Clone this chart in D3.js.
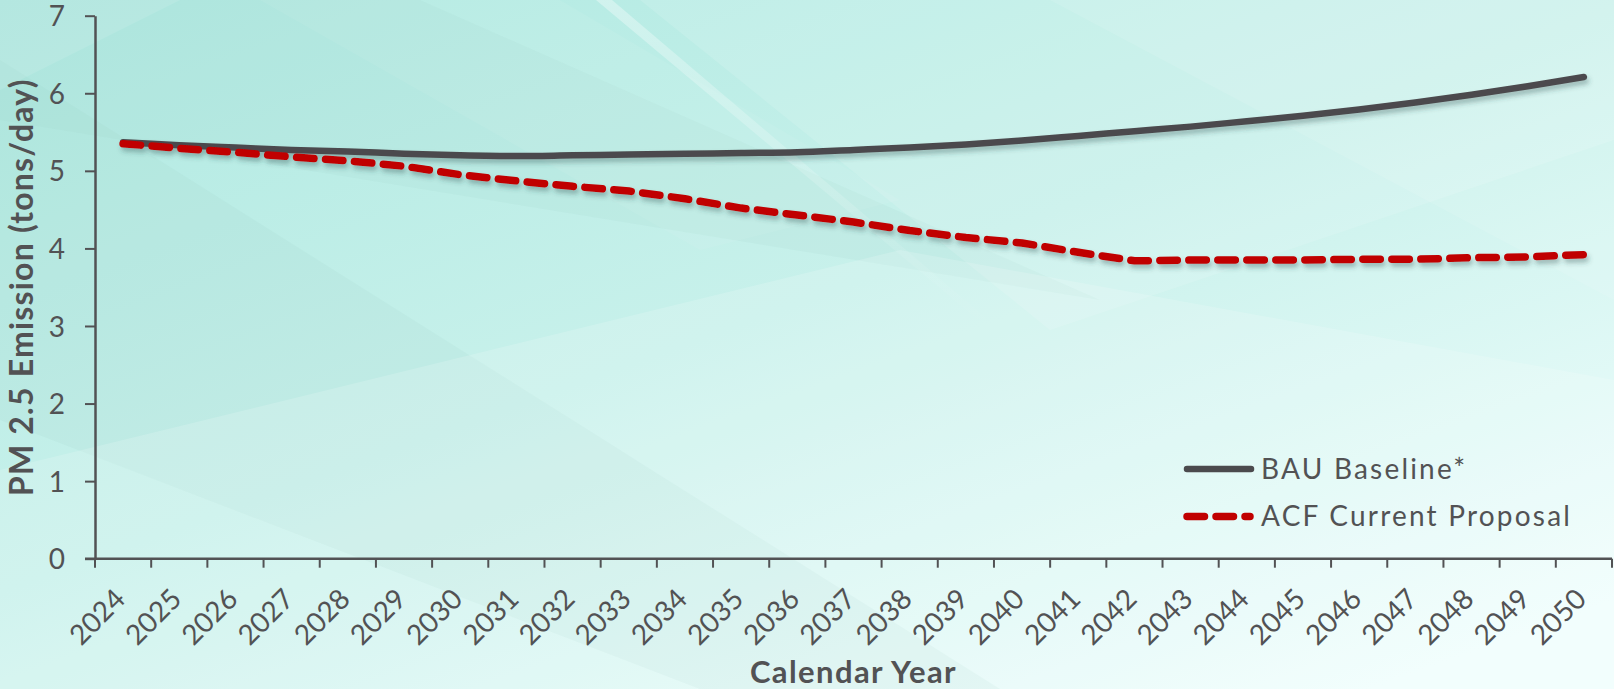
<!DOCTYPE html>
<html>
<head>
<meta charset="utf-8">
<script src="https://cdn.jsdelivr.net/npm/d3@7/dist/d3.min.js"></script>
<style>
  html, body { margin: 0; padding: 0; overflow: hidden; background: #e6f9f6; }
  svg { display: block; }
  text { font-family: Lato, "Open Sans", sans-serif; }
</style>
</head>
<body>
<svg id="chart" width="1614" height="689"></svg>
<script>
// PM 2.5 emission projections, tons per day
const years = d3.range(2024, 2051);
const bauBaseline = [5.37, 5.33, 5.30, 5.27, 5.25, 5.22, 5.20, 5.19, 5.20, 5.21,
                     5.22, 5.23, 5.24, 5.27, 5.30, 5.34, 5.39, 5.45, 5.51, 5.57,
                     5.64, 5.71, 5.79, 5.88, 5.98, 6.09, 6.21];
const acfProposal = [5.35, 5.29, 5.24, 5.18, 5.13, 5.06, 4.95, 4.87, 4.80, 4.74,
                     4.64, 4.52, 4.43, 4.34, 4.23, 4.14, 4.07, 3.95, 3.84, 3.85,
                     3.85, 3.85, 3.86, 3.86, 3.88, 3.89, 3.92];
const yTicks = [0, 1, 2, 3, 4, 5, 6, 7];
const seriesNames = ["BAU Baseline*", "ACF Current Proposal"];

const W = 1614, H = 689;
const plotLeft = 95, plotRight = 1612, plotTop = 15.7, plotBottom = 558.7;
const ink = "#525254";

const svg = d3.select("#chart");
const defs = svg.append("defs");

// background wash
const bg = defs.append("linearGradient").attr("id", "bgGrad")
  .attr("x1", "0").attr("y1", "0").attr("x2", "0.85").attr("y2", "1");
bg.append("stop").attr("offset", "0").attr("stop-color", "#afe9e1");
bg.append("stop").attr("offset", "0.5").attr("stop-color", "#c8f1eb");
bg.append("stop").attr("offset", "1").attr("stop-color", "#f0fefd");
svg.append("rect").attr("width", W).attr("height", H).attr("fill", "url(#bgGrad)");

// fading streak used for the light facet edges
const streak = defs.append("linearGradient").attr("id", "streak")
  .attr("x1", "0").attr("y1", "0").attr("x2", "0").attr("y2", "1");
streak.append("stop").attr("offset", "0").attr("stop-color", "#ffffff").attr("stop-opacity", 0.35);
streak.append("stop").attr("offset", "1").attr("stop-color", "#ffffff").attr("stop-opacity", 0);

// soft faceted light panels
const facets = [
  { pts: [[0, 60], [0, 420], [700, 689], [1000, 689]], fill: "#8fc7bf", op: 0.10 },
  { pts: [[0, 0], [420, 0], [1100, 300], [0, 120]], fill: "#9ad0c8", op: 0.12 },
  { pts: [[640, 0], [1614, 0], [1614, 140], [1050, 330]], fill: "#ffffff", op: 0.12 },
  { pts: [[0, 470], [900, 250], [1614, 380], [1614, 689], [0, 689]], fill: "#ffffff", op: 0.16 },
  { pts: [[260, 0], [560, 0], [900, 200], [700, 250]], fill: "#ffffff", op: 0.06 },
  { pts: [[1050, 0], [1614, 0], [1614, 300]], fill: "#ffffff", op: 0.10 },
  { pts: [[0, 0], [180, 0], [0, 90]], fill: "#ffffff", op: 0.10 }
];
svg.append("g").selectAll("polygon").data(facets).join("polygon")
  .attr("points", d => d.pts.map(p => p.join(",")).join(" "))
  .attr("fill", d => d.fill).attr("opacity", d => d.op);
svg.append("polygon").attr("points", "596,0 612,0 1000,330 990,330")
  .attr("fill", "url(#streak)");

// shadow under the lines
const shadow = defs.append("filter").attr("id", "lineShadow")
  .attr("x", "-5%").attr("y", "-20%").attr("width", "110%").attr("height", "160%");
shadow.append("feDropShadow").attr("dx", 2).attr("dy", 4).attr("stdDeviation", 2.5)
  .attr("flood-color", "#2f4a47").attr("flood-opacity", 0.35);

const x = d3.scaleBand().domain(years).range([plotLeft, plotRight]);
const y = d3.scaleLinear().domain([0, 7]).range([plotBottom, plotTop]);
const cx = yr => x(yr) + x.bandwidth() / 2;

// y axis
const yAxis = svg.append("g").attr("transform", `translate(${plotLeft},0)`)
  .call(d3.axisLeft(y).tickValues(yTicks).tickFormat(d3.format("d"))
    .tickSize(10).tickSizeOuter(0).tickPadding(20));
yAxis.select(".domain").attr("stroke", ink).attr("stroke-width", 2.5);
yAxis.selectAll(".tick line").attr("stroke", ink).attr("stroke-width", 2);
yAxis.selectAll(".tick text").attr("fill", ink).style("font-size", "28px")
  .attr("dy", "0.36em");

// x axis: ticks on category boundaries, labels centred on categories
const xAxis = svg.append("g").attr("transform", `translate(0,${plotBottom})`);
xAxis.append("line").attr("x1", plotLeft - 10).attr("x2", plotRight)
  .attr("stroke", ink).attr("stroke-width", 2.5);
const bounds = years.map(yr => x(yr)).concat([plotRight]);
xAxis.selectAll("line.tk").data(bounds).join("line").attr("class", "tk")
  .attr("x1", d => d).attr("x2", d => d).attr("y1", 0).attr("y2", 9)
  .attr("stroke", ink).attr("stroke-width", 2);
xAxis.selectAll("text").data(years).join("text")
  .attr("transform", d => `translate(${cx(d) + 4},42) rotate(-45)`)
  .attr("text-anchor", "end").attr("fill", ink).style("font-size", "28px")
  .text(d => d);

// axis titles
svg.append("text")
  .attr("transform", `translate(33,${(plotTop + plotBottom) / 2}) rotate(-90)`)
  .attr("text-anchor", "middle").attr("fill", ink)
  .style("font-size", "32px").style("font-weight", "bold").style("letter-spacing", "1.2px")
  .text("PM 2.5 Emission (tons/day)");
svg.append("text")
  .attr("x", (plotLeft + plotRight) / 2).attr("y", 683)
  .attr("text-anchor", "middle").attr("fill", ink)
  .style("font-size", "31px").style("font-weight", "bold").style("letter-spacing", "1.4px")
  .text("Calendar Year");

// series lines
const bauLine = d3.line().x((d, i) => cx(years[i])).y(d => y(d)).curve(d3.curveCatmullRom.alpha(0.5));
const acfLine = d3.line().x((d, i) => cx(years[i])).y(d => y(d));

const styles = [
  { color: "#4b4a4d", width: 6.5, dash: null },
  { color: "#c00000", width: 7.5, dash: "17.5 11.5" }
];

const lines = svg.append("g").attr("filter", "url(#lineShadow)");
lines.append("path").datum(bauBaseline).attr("d", bauLine)
  .attr("fill", "none").attr("stroke", styles[0].color)
  .attr("stroke-width", styles[0].width).attr("stroke-linecap", "round").attr("stroke-linejoin", "round");
lines.append("path").datum(acfProposal).attr("d", acfLine)
  .attr("fill", "none").attr("stroke", styles[1].color)
  .attr("stroke-width", styles[1].width).attr("stroke-dasharray", styles[1].dash)
  .attr("stroke-linecap", "round").attr("stroke-linejoin", "round");

// legend
const legend = svg.append("g");
const legendY = [469, 516.5];
seriesNames.forEach((name, i) => {
  const g = legend.append("g").attr("transform", `translate(0,${legendY[i]})`);
  g.append("line").attr("x1", 1187).attr("x2", i === 1 ? 1250 : 1251)
    .attr("stroke", styles[i].color).attr("stroke-width", styles[i].width)
    .attr("stroke-dasharray", styles[i].dash)
    .attr("stroke-linecap", "round");
  g.append("text").attr("x", 1261).attr("y", 9.5)
    .attr("fill", ink).style("font-size", "28px").style("letter-spacing", "2.2px")
    .text(name);
});
</script>
</body>
</html>
